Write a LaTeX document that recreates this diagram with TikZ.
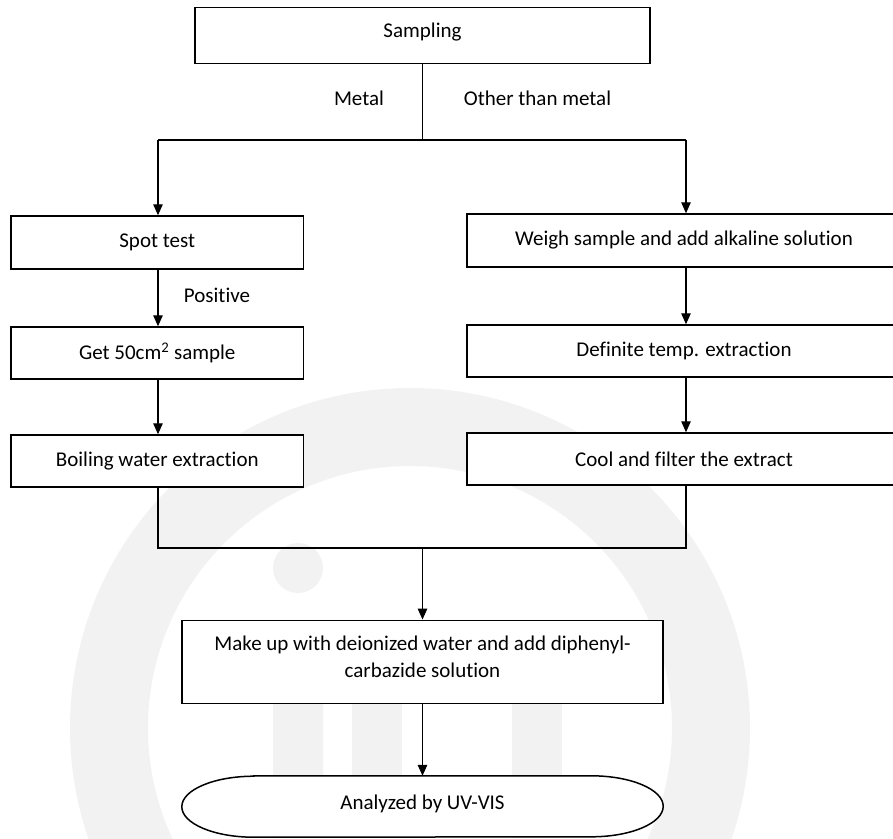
\documentclass[tikz,border=0pt]{standalone}
\usepackage{fontspec}
\setmainfont{Carlito}[Ligatures=NoCommon]
\usetikzlibrary{arrows.meta}
\definecolor{wm}{gray}{0.95}
\tikzset{
  box/.style={draw, line width=1.5pt, fill=white, inner sep=0pt, font=\fontsize{21}{26}\selectfont},
  lbox/.style={box, minimum width=292.5pt, minimum height=53pt},
  rbox/.style={box, minimum width=434pt, minimum height=53pt},
  lbl/.style={inner sep=0pt, font=\fontsize{21}{26}\selectfont},
  conn/.style={line width=1.3pt},
  arr/.style={conn, -{Triangle[width=9.5pt,length=11pt]}}
}
\begin{document}
\begin{tikzpicture}[x=1pt,y=-1pt]
\useasboundingbox (0,0) rectangle (893,838);
% watermark
\begin{scope}
\clip (0,0) rectangle (893,838);
\fill[wm, even odd rule] (410,728) circle[radius=340] (410,728) circle[radius=262];
\fill[wm] (298,568) circle[radius=25];
\fill[wm] (273,838) -- (273,637) arc[start angle=180, end angle=0, radius=25] -- (323,838) -- cycle;
\fill[wm] (352,625) rectangle (402,838);
\fill[wm] (512,625) rectangle (562,838);
\end{scope}
% nodes
\node[box, minimum width=455pt, minimum height=56pt] (samp) at (422.5,35.3) {};
\node[lbl] (samptext) at (422.5,32.5) {Sampling};
\node[lbox] (spot) at (157.25,242.5) {Spot test};
\node[rbox] (weigh) at (684,240.5) {Weigh sample and add alkaline solution};
\node[lbox, minimum height=52pt] (get) at (157.25,353) {Get 50cm\textsuperscript{2} sample};
\node[rbox, minimum height=52pt] (defin) at (684,351) {Definite temp. extraction};
\node[lbox, minimum height=52pt] (boil) at (157.25,461) {Boiling water extraction};
\node[rbox, minimum height=52pt] (cool) at (684,459) {Cool and filter the extract};
\node[box, minimum width=481pt, minimum height=83.4pt] (make) at (422.5,662) {};
\node[lbl, align=center, font=\fontsize{21}{26.7}\selectfont] (maketext) at (422.5,657) {Make up with deionized water and add diphenyl-\\carbazide solution};
\node[inner sep=0pt, minimum width=481pt, minimum height=61pt] (uv) at (422.5,806.5) {};
\draw[line width=1.5pt, fill=white] ([xshift=72pt]uv.north west) -- ([xshift=-72pt]uv.north east)
  arc[start angle=90, end angle=-90, x radius=72pt, y radius=30.5pt]
  -- ([xshift=72pt]uv.south west)
  arc[start angle=270, end angle=90, x radius=72pt, y radius=30.5pt] -- cycle;
\node[lbl] (uvtext) at (422.5,804) {Analyzed by UV-VIS};
% labels
\node[lbl] (metal) at (359,98) {Metal};
\node[lbl] (other) at (537.5,98) {Other than metal};
\node[lbl] (pos) at (217,295) {Positive};
% connectors
\coordinate (split) at (422.5,140);
\coordinate (sl) at (158,140);
\coordinate (sr) at (686,140);
\draw[conn] (samp.south) -- (split);
\draw[conn] (sl) -- (sr);
\draw[arr] (sl) -- (sl |- spot.north);
\draw[arr] (sr) -- (sr |- weigh.north);
\draw[arr] (spot.south -| sl) -- (get.north -| sl);
\draw[arr] (get.south -| sl) -- (boil.north -| sl);
\draw[arr] (weigh.south -| sr) -- (defin.north -| sr);
\draw[arr] (defin.south -| sr) -- (cool.north -| sr);
\coordinate (ml) at (158,548);
\coordinate (mr) at (686,548);
\coordinate (mm) at (422.5,548);
\draw[conn] (boil.south -| ml) -- (ml) -- (mr) -- (cool.south -| mr);
\draw[arr] (mm) -- (make.north);
\draw[arr] (make.south) -- (uv.north);
\end{tikzpicture}
\end{document}
